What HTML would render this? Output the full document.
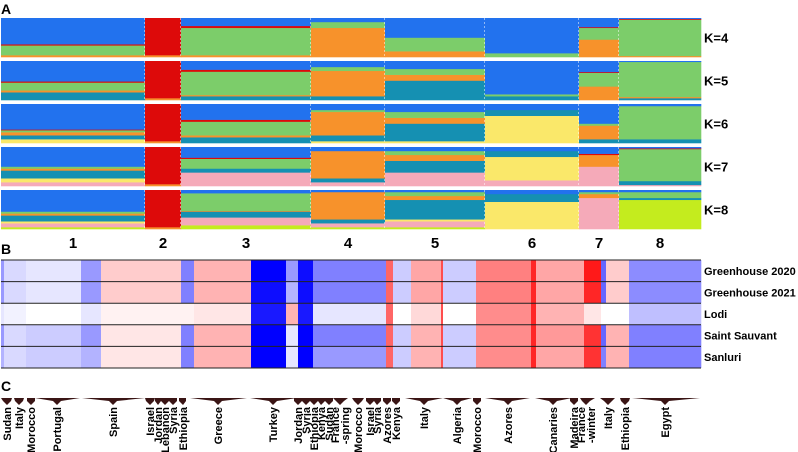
<!DOCTYPE html>
<html><head><meta charset="utf-8">
<style>
html,body{margin:0;padding:0;background:#fff;}
svg{display:block;font-family:"Liberation Sans",Arial,sans-serif;}
</style></head>
<body>
<svg id="fig" width="798" height="452" viewBox="0 0 798 452" xmlns="http://www.w3.org/2000/svg">
<text x="1" y="14" font-size="14" font-weight="bold">A</text>
<text x="1" y="254" font-size="14" font-weight="bold">B</text>
<text x="1" y="391" font-size="14" font-weight="bold">C</text>
<g id="structure"></g>
<g id="heat"></g>
<g id="labels"></g>
</svg>
<script>
// ---------- Panel A data ----------
const groupNames = ["1","2","3","4","5","6","7","8"];
const groupSizes = [72,18,65,37,50,47,20,41];
const kLabels = ["K=4","K=5","K=6","K=7","K=8"];
const compK4 = [
 [["O",.05],["G",.25],["R",.03],["B",.67]],
 [["O",.05],["R",.95]],
 [["O",.05],["G",.70],["R",.05],["B",.20]],
 [["O",.75],["G",.15],["B",.10]],
 [["O",.15],["G",.35],["B",.50]],
 [["G",.10],["B",.90]],
 [["O",.45],["G",.30],["R",.02],["B",.23]],
 [["O",.03],["G",.93],["R",.02],["B",.02]]];
const compK5 = [
 [["T",.20],["O",.05],["G",.20],["R",.03],["B",.52]],
 [["O",.05],["R",.95]],
 [["T",.10],["O",.03],["G",.60],["R",.05],["B",.22]],
 [["T",.10],["O",.65],["G",.10],["B",.15]],
 [["T",.50],["O",.15],["G",.15],["B",.20]],
 [["T",.10],["G",.05],["B",.85]],
 [["O",.35],["G",.35],["R",.02],["B",.28]],
 [["T",.05],["O",.03],["G",.90],["B",.02]]];
const compK6 = [
 [["Y",.10],["T",.10],["O",.08],["G",.05],["R",.02],["B",.65]],
 [["O",.05],["R",.95]],
 [["T",.15],["O",.05],["G",.35],["R",.05],["B",.40]],
 [["Y",.05],["T",.15],["O",.60],["G",.05],["B",.15]],
 [["Y",.05],["T",.45],["O",.15],["G",.15],["B",.20]],
 [["Y",.70],["T",.15],["B",.15]],
 [["T",.10],["O",.35],["G",.05],["B",.50]],
 [["T",.10],["G",.85],["B",.05]]];
const compK7 = [
 [["P",.10],["Y",.10],["T",.20],["O",.05],["G",.05],["B",.50]],
 [["O",.05],["R",.95]],
 [["P",.35],["T",.10],["G",.25],["R",.03],["B",.27]],
 [["P",.10],["T",.10],["O",.70],["B",.10]],
 [["P",.35],["T",.30],["O",.15],["G",.10],["B",.10]],
 [["P",.15],["Y",.60],["T",.15],["B",.10]],
 [["P",.50],["O",.30],["R",.03],["B",.17]],
 [["P",.03],["T",.10],["G",.82],["R",.02],["B",.03]]];
const compK8 = [
 [["L",.05],["P",.10],["Y",.05],["T",.15],["O",.05],["G",.05],["B",.55]],
 [["O",.05],["R",.95]],
 [["L",.10],["P",.20],["T",.15],["O",.02],["G",.45],["B",.08]],
 [["L",.05],["P",.10],["T",.10],["O",.70],["B",.05]],
 [["L",.05],["P",.15],["Y",.05],["T",.50],["O",.10],["G",.10],["B",.05]],
 [["Y",.70],["T",.20],["B",.10]],
 [["P",.80],["O",.10],["G",.05],["B",.05]],
 [["L",.75],["T",.05],["G",.15],["B",.05]]];
const compsByK = [compK4,compK5,compK6,compK7,compK8];

// ---------- Panel B data ----------
const envNames = ["Greenhouse 2020","Greenhouse 2021","Lodi","Saint Sauvant","Sanluri"];
const segSamples = [3,22,55,20,80,13,57,35,12,15,73,7,18,30,2,33,55,5,48,17,5,23,72];
const segG2020 = [-.4,-.15,-.1,-.4,.2,-.5,.3,-1,-.4,-.95,-.5,.6,-.2,.35,.7,-.2,.5,.85,.35,.9,-.6,.2,-.45];
const segG2021 = [-.4,-.15,-.1,-.4,.2,-.5,.3,-.95,-.3,-.95,-.5,.6,-.2,.35,.7,-.2,.5,.85,.35,.85,-.6,.2,-.45];
const segLodi  = [-.1,-.05,0,-.1,.05,.05,.1,-.9,.3,-.9,-.1,.6,0,.15,.7,0,.45,.85,.3,.1,0,0,-.25];
const segStS   = [-.4,-.15,-.2,-.4,.1,-.5,.3,-1,-.1,-1,-.5,.6,-.2,.3,.7,-.2,.45,.85,.4,.8,-.6,.3,-.5];
const segSan   = [-.3,-.15,-.2,-.3,.1,-.5,.3,-1,-.1,-1,-.4,.6,-.2,.3,.7,-.2,.45,.85,.35,.8,-.5,.3,-.5];
const heatRows = [segG2020,segG2021,segLodi,segStS,segSan];

// ---------- Panel C data ----------
const popLabels = ["Sudan","Italy","Morocco","Portugal","Spain","Israel","Jordan","Lebanon","Syria","Ethiopia","Greece","Turkey","Jordan","Syria","Ethiopia","Kenya","Sudan","France\n-spring","Morocco","Israel","Syria","Azores","Kenya","Italy","Algeria","Morocco","Azores","Canaries","Madeira","France\n-winter","Italy","Ethiopia","Egypt"];
const popCenters = [7,19,31,57,113,150,158,165,173,183,218,273,298,306,314,321,329,340,358,370,377,387,396,424,457,477,508,553,574,586,608,625,665];
const popSpans = [[1,12],[14,24],[27,35],[35,80],[82,145],[145,155],[155,161],[161,169],[169,177],[179,186],[190,247],[250,297],[294,302],[302,310],[310,318],[318,325],[325,333],[333,348],[352,364],[366,374],[374,381],[383,391],[392,400],[405,443],[443,472],[473,481],[485,530],[535,572],[570,578],[580,595],[600,615],[620,630],[632,700]];

const NS="http://www.w3.org/2000/svg";
function mk(tag,attrs,parent){const e=document.createElementNS(NS,tag);for(const k in attrs)e.setAttribute(k,attrs[k]);parent.appendChild(e);return e;}
const COL={B:"#2272ee",R:"#dd0a0a",G:"#7ccd6a",O:"#f7922b",T:"#1590b2",Y:"#fae86a",P:"#f5aab9",L:"#c4ec1e"};

// Panel A
const X0=1,X1=701;
const totalInd=groupSizes.reduce((a,b)=>a+b,0);
const xs=i=>X0+(X1-X0)*i/totalInd;
const rowTops=[18,61,104,147,190], rowH=39;
const gS=document.getElementById("structure");
compsByK.forEach((comps,ki)=>{
  const g=mk("g",{},gS);
  
  
  let cum=0;
  comps.forEach((comp,gi)=>{
    const xa=xs(cum), xb=xs(cum+groupSizes[gi]);
    let yb=rowTops[ki]+rowH;
    comp.forEach(([c,f])=>{
      const h=f*rowH;
      const r=mk("rect",{x:xa,y:yb-h,width:xb-xa+0.3,height:h+0.3,fill:COL[c]},g);
      
      
      yb-=h;
    });
    cum+=groupSizes[gi];
    if(gi<comps.length-1){
      const l=mk("line",{x1:xb,x2:xb,y1:rowTops[ki],y2:rowTops[ki]+rowH,stroke:"#fff","stroke-width":1,"stroke-dasharray":"2,2"},g);
      
      
    }
  });
  const t=mk("text",{x:704,y:rowTops[ki]+rowH/2+5,"font-size":13,"font-weight":"bold"},gS);
  t.textContent=kLabels[ki];
  
  
});
let cum=0;
groupSizes.forEach((n,gi)=>{
  const t=mk("text",{x:xs(cum+n/2),y:248,"font-size":15,"font-weight":"bold","text-anchor":"middle"},gS);
  t.textContent=groupNames[gi];
  
  
  cum+=n;
});

// Panel B
const gH=document.getElementById("heat");
const HY0=260,HY1=368,HX0=1,HX1=701;
const totalS=segSamples.reduce((a,b)=>a+b,0);
const hx=i=>HX0+(HX1-HX0)*i/totalS;
const rH=(HY1-HY0)/5;
function colr(v){v=Math.max(-1,Math.min(1,v));
  if(v>=0){const k=Math.round(255*(1-v));return `rgb(255,${k},${k})`;}
  const k=Math.round(255*(1+v));return `rgb(${k},${k},255)`;}
heatRows.forEach((row,ri)=>{
  let c=0;
  segSamples.forEach((n,si)=>{
    const r=mk("rect",{x:hx(c),y:HY0+ri*rH,width:hx(c+n)-hx(c)+0.3,height:rH,fill:colr(row[si])},gH);
    
    
    c+=n;
  });
  const t=mk("text",{x:704,y:HY0+ri*rH+rH/2+4,"font-size":11,"font-weight":"bold"},gH);
  t.textContent=envNames[ri];
  
  
});
for(let i=0;i<=5;i++){
  const l=mk("line",{x1:HX0,x2:HX1,y1:HY0+i*rH,y2:HY0+i*rH,stroke:"#222","stroke-width":1},gH);
  
  
}

// Panel C
const gL=document.getElementById("labels");
popLabels.forEach((lab,i)=>{
  const [a,b]=popSpans[i], m=popCenters[i];
  const p=mk("polygon",{points:`${a},398 ${b},398 ${Math.min(b,m+4)},401 ${m},405 ${Math.max(a,m-4)},401`,fill:"#3a1515"},gL);
  
  
  const lines=lab.split("\n");
  lines.forEach((ln,li)=>{
    const xx=m+4-(lines.length-1)*5+li*10;
    const t=mk("text",{x:0,y:0,"font-size":11,"font-weight":"bold","text-anchor":"end",transform:`translate(${xx},407) rotate(-90)`},gL);
    t.textContent=ln;
    
    
  });
});
</script>
</body></html>
